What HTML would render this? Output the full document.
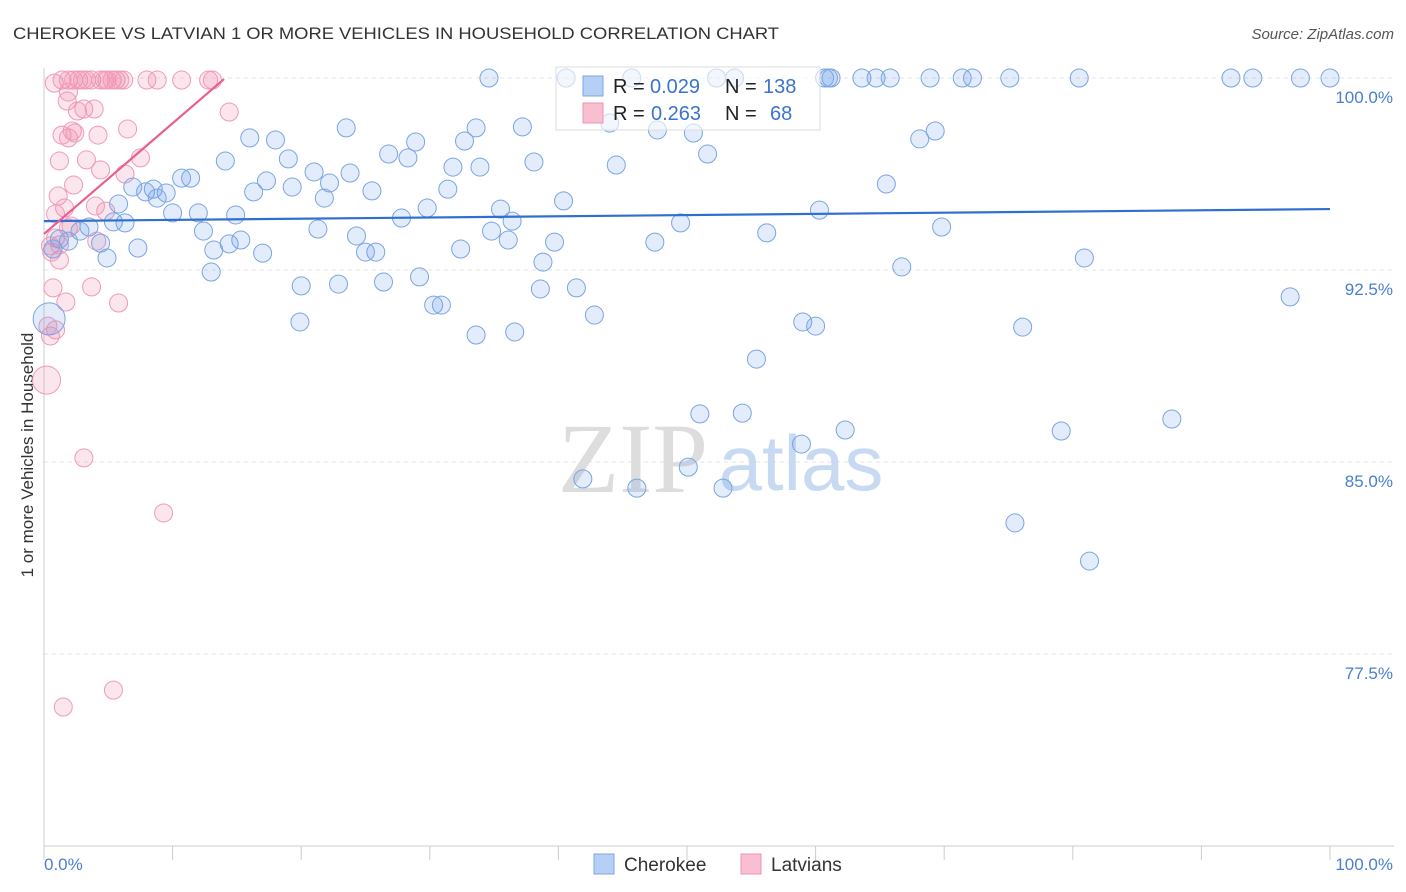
<!DOCTYPE html>
<html><head><meta charset="utf-8"><style>
body{margin:0;background:#fff;font-family:"Liberation Sans",sans-serif;}
svg{display:block}
</style></head><body>
<svg width="1406" height="892" xmlns="http://www.w3.org/2000/svg">
<text x="13" y="39" font-size="17" fill="#333" textLength="766" lengthAdjust="spacingAndGlyphs">CHEROKEE VS LATVIAN 1 OR MORE VEHICLES IN HOUSEHOLD CORRELATION CHART</text>
<text x="1394" y="39" font-size="15" fill="#555" font-style="italic" text-anchor="end">Source: ZipAtlas.com</text>
<text transform="translate(33,455) rotate(-90)" font-size="17" fill="#333" text-anchor="middle">1 or more Vehicles in Household</text>
<g id="grid"></g>
<g><text x="633" y="492" font-size="100" font-family="Liberation Serif,serif" fill="#ddd" text-anchor="middle">ZIP</text><text x="801" y="490" font-size="78" fill="#c8daf2" text-anchor="middle">atlas</text></g>
<g id="pts"></g>
<g id="trend"></g>
<g>
<rect x="556" y="67" width="264" height="63" fill="#fff" fill-opacity="0.6" stroke="#ddd"/>
<rect x="583" y="76" width="20" height="20" fill="#b5cff5" stroke="#7fa6e0"/>
<text y="93" font-size="20" fill="#222"><tspan x="613">R =</tspan><tspan x="650" fill="#3a73d0">0.029</tspan><tspan x="725">N =</tspan><tspan x="763" fill="#3a73d0">138</tspan></text>
<rect x="583" y="103" width="20" height="20" fill="#f7bfd0" stroke="#eb96b2"/>
<text y="120" font-size="20" fill="#222"><tspan x="613">R =</tspan><tspan x="651" fill="#3a73d0">0.263</tspan><tspan x="725">N =</tspan><tspan x="770" fill="#3a73d0">68</tspan></text>
</g>
<g>
<rect x="594" y="854" width="20" height="20" fill="#b5cff5" stroke="#7fa6e0"/>
<text x="624" y="871" font-size="19" fill="#333">Cherokee</text>
<rect x="741" y="854" width="20" height="20" fill="#f7bfd0" stroke="#eb96b2"/>
<text x="771" y="871" font-size="19" fill="#333">Latvians</text>
</g>
</svg>
<script>
const yTicks=[100,92.5,85,77.5];
const yTickLabels=["100.0%","92.5%","85.0%","77.5%"];
const xTickVals=[0,10,20,30,40,50,60,70,80,90,100];
const cherokeeX=[34.6,40.6,45.7,52.3,53.7,60.7,61.0,61.2,63.6,64.7,65.8,68.9,71.4,72.2,75.1,80.5,92.3,94.0,97.7,100,
44.0,47.7,50.5,51.6,44.5,68.1,69.3,65.5,69.8,66.7,80.9,96.9,76.1,59.0,60.0,55.4,51.0,54.3,62.3,58.9,50.1,41.9,46.1,52.8,79.1,87.7,75.5,81.3,
60.3,56.2,49.5,47.5,40.4,38.8,39.7,38.6,41.4,42.8,38.1,37.2,33.6,35.5,36.1,36.4,34.8,32.7,33.9,31.8,31.4,32.4,29.8,28.9,28.3,26.8,27.8,25.8,25.0,25.5,24.3,23.8,23.5,22.2,21.8,21.0,21.3,20.0,19.9,22.9,26.4,29.2,30.3,30.9,33.6,36.6,
19.0,18.0,19.3,17.3,16.3,17.0,16.0,14.1,14.9,15.3,14.4,13.2,13.0,12.4,12.0,11.4,10.7,10.0,9.5,8.5,7.9,8.8,6.9,7.3,6.3,5.8,5.4,4.9,4.4,3.5,2.8,1.9,1.2,0.7,0.4];
const cherokeeY=[100,100,100,100,100,100,100,100,100,100,100,100,100,100,100,100,100,100,100,100,
98.24,97.97,97.85,97.03,96.60,97.62,97.93,95.86,94.18,92.62,92.97,91.45,90.27,90.47,90.31,89.02,86.88,86.91,86.25,85.70,84.80,84.34,83.98,83.98,86.21,86.68,82.62,81.13,
94.84,93.95,94.34,93.59,95.20,92.81,93.59,91.76,91.80,90.74,96.72,98.09,98.05,94.88,93.67,94.41,94.02,97.54,96.52,96.52,95.66,93.32,94.92,97.50,96.88,97.03,94.53,93.20,93.20,95.59,93.83,96.29,98.05,95.90,95.31,96.33,94.10,91.88,90.47,91.95,92.03,92.23,91.13,91.13,89.96,90.08,
96.84,97.58,95.74,95.98,95.55,93.16,97.66,96.76,94.65,93.67,93.52,93.28,92.42,94.02,94.73,96.09,96.09,94.73,95.51,95.66,95.55,95.31,95.74,93.36,94.34,95.08,94.38,92.97,93.55,94.18,94.02,93.63,93.71,93.32,90.59];
const latX=[0.8,1.4,1.9,2.3,2.7,3.0,3.3,3.7,4.4,4.7,4.9,5.3,5.6,5.9,6.2,8.0,8.8,10.7,12.8,13.1,
1.8,1.9,3.1,3.9,2.6,14.4,1.4,1.9,2.2,2.4,4.2,6.5,1.2,3.3,4.4,7.5,6.3,1.1,2.3,1.6,0.9,4.8,4.0,1.9,2.1,0.9,0.5,1.2,4.1,0.6,0.7,1.7,3.7,5.8,0.9,0.5,0.3,0.2,3.1,9.3,5.4,1.5,1.2];
const latY=[99.80,99.92,99.92,99.92,99.92,99.92,99.92,99.92,99.92,99.92,99.92,99.92,99.92,99.92,99.92,99.92,99.92,99.92,99.92,99.92,
99.10,99.45,98.79,98.79,98.71,98.67,97.77,97.66,97.93,97.85,97.77,98.01,96.76,96.80,96.41,96.88,96.25,95.39,95.82,94.92,94.69,94.80,95.00,94.14,94.22,93.75,93.44,92.89,93.63,93.20,91.80,91.25,91.84,91.21,90.16,89.92,90.31,88.20,85.16,83.01,76.09,75.43,93.48];
const cherokeeTrend=[94.41,94.88];
const latTrend=[93.91,99.96];
const latTrendXMax=14;

const NS="http://www.w3.org/2000/svg";
const X=v=>44+v*12.86;
const Y=v=>78+(100-v)*25.6;
function mk(tag,attrs,parent){const e=document.createElementNS(NS,tag);for(const k in attrs)e.setAttribute(k,attrs[k]);parent.appendChild(e);return e;}
const grid=document.getElementById('grid');
yTicks.forEach((t,i)=>{
 const l=mk('line',{x1:44,x2:1394,y1:Y(t),y2:Y(t),stroke:'#e3e3e3','stroke-dasharray':'4,4'},grid);
 
 
 const tx=mk('text',{x:1393,y:Y(t)+25,'font-size':17,fill:'#4a7fd0','text-anchor':'end'},grid);
 tx.textContent=yTickLabels[i];
 
 
});
const ax=mk('line',{x1:44,x2:44,y1:68,y2:846,stroke:'#ccc'},grid);


const bx=mk('line',{x1:44,x2:1394,y1:846,y2:846,stroke:'#ccc'},grid);


xTickVals.forEach(v=>{
 const t=mk('line',{x1:X(v),x2:X(v),y1:846,y2:860,stroke:'#ccc'},grid);
 
 
});
const xl0=mk('text',{x:44,y:870,'font-size':17,fill:'#4a7fd0'},grid);xl0.textContent="0.0%";


const xl1=mk('text',{x:1393,y:870,'font-size':17,fill:'#4a7fd0','text-anchor':'end'},grid);xl1.textContent="100.0%";



const pts=document.getElementById('pts');
latX.forEach((x,i)=>{
 const r=(i===57)?14:9;
 const c=mk('circle',{cx:X(x),cy:Y(latY[i]),r:r,fill:'rgba(240,140,175,0.22)',stroke:'#ef9ab8','stroke-width':1},pts);
 
 
});
cherokeeX.forEach((x,i)=>{
 const r=(i===cherokeeX.length-1)?16:9;
 const c=mk('circle',{cx:X(x),cy:Y(cherokeeY[i]),r:r,fill:'rgba(110,160,235,0.2)',stroke:'#7aa5e2','stroke-width':1},pts);
 
 
});
const tr=document.getElementById('trend');
const l1=mk('line',{x1:X(0),y1:Y(cherokeeTrend[0]),x2:X(100),y2:Y(cherokeeTrend[1]),stroke:'#2f6fd0','stroke-width':2.2},tr);


const l2=mk('line',{x1:X(0),y1:Y(latTrend[0]),x2:X(latTrendXMax),y2:Y(latTrend[1]),stroke:'#e8608e','stroke-width':2.2},tr);


</script>
</body></html>
